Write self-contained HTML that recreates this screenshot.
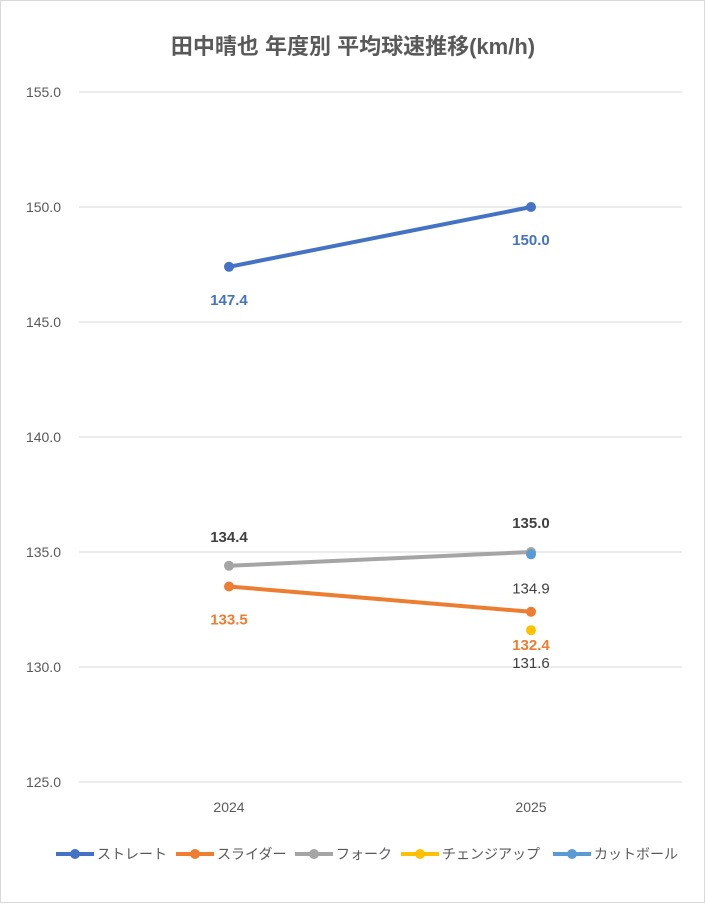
<!DOCTYPE html>
<html><head><meta charset="utf-8"><style>
body{margin:0;background:#fff}
#wrap{position:relative;width:703px;height:901px;border:1px solid #d9d9d9;font-family:"Liberation Sans","Noto Sans CJK JP",sans-serif}
svg text{font-family:"Liberation Sans","Noto Sans CJK JP",sans-serif}
</style></head><body>
<div id="wrap">
<svg id="chart" width="703" height="901">
<text x="352" y="53" text-anchor="middle" font-size="22" font-weight="bold" fill="#595959">田中晴也 年度別 平均球速推移(km/h)</text>
<g id="grid"></g><g id="series"></g><g id="legend"></g>
</svg></div>
<script>
const years=["2024","2025"];
const yTicks=[125,130,135,140,145,150,155];
const seriesNames=["ストレート","スライダー","フォーク","チェンジアップ","カットボール"];
const seriesColors=["#4472C4","#ED7D31","#A5A5A5","#FFC000","#5B9BD5"];
const straight=[147.4,150.0];
const slider=[133.5,132.4];
const fork=[134.4,135.0];
const changeup=[null,131.6];
const cutball=[null,134.9];
const allSeries=[straight,slider,fork,changeup,cutball];
const labelStyle=[{dy:38,c:"#4472C4",b:1},{dy:38,c:"#ED7D31",b:1},{dy:-24,c:"#404040",b:1},{dy:38,c:"#404040",b:0},{dy:39,c:"#404040",b:0}];
const NS="http://www.w3.org/2000/svg";
function y(v){return 781-(v-125)*23;}
function x(i){return 228+i*302;}
function mk(t,a,p){const e=document.createElementNS(NS,t);for(const k in a)e.setAttribute(k,a[k]);p.appendChild(e);return e;}
const grid=document.getElementById('grid');
yTicks.forEach(t=>{
 const l=mk('line',{x1:78,x2:681,y1:y(t),y2:y(t),stroke:'#d9d9d9','stroke-width':1},grid);
 
 
 const tx=mk('text',{x:60,y:y(t)+5,'text-anchor':'end','font-size':14,fill:'#595959'},grid);
 tx.textContent=t.toFixed(1);
 
 
});
years.forEach((yr,i)=>{
 const tx=mk('text',{x:x(i),y:811,'text-anchor':'middle','font-size':14,fill:'#595959'},grid);
 tx.textContent=yr;
 
 
});
const sg=document.getElementById('series');
allSeries.forEach((s,k)=>{
 const pts=s.map((v,i)=>v==null?null:[x(i),y(v)]).filter(p=>p);
 if(pts.length>1){const pl=mk('polyline',{points:pts.map(p=>p.join(',')).join(' '),fill:'none',stroke:seriesColors[k],'stroke-width':4,'stroke-linecap':'round'},sg);
 
 }
});
allSeries.forEach((s,k)=>{
 s.forEach((v,i)=>{if(v==null)return;
  const c=mk('circle',{cx:x(i),cy:y(v),r:5,fill:seriesColors[k]},sg);
  
  
  const st=labelStyle[k];
  const t=mk('text',{x:x(i),y:y(v)+st.dy,'text-anchor':'middle','font-size':15,fill:st.c,'font-weight':st.b?'bold':'normal'},sg);
  t.textContent=v.toFixed(1);
  
  
 });
});
const lg=document.getElementById('legend');
const lx=[55,175,294,400,552];
seriesNames.forEach((n,k)=>{
 const g=mk('g',{},lg);
 
 
 mk('line',{x1:lx[k],x2:lx[k]+38,y1:853,y2:853,stroke:seriesColors[k],'stroke-width':4},g);
 mk('circle',{cx:lx[k]+19,cy:853,r:5,fill:seriesColors[k]},g);
 const t=mk('text',{x:lx[k]+41,y:858,'font-size':14,fill:'#595959'},g);
 t.textContent=n;
});
</script>
</body></html>
